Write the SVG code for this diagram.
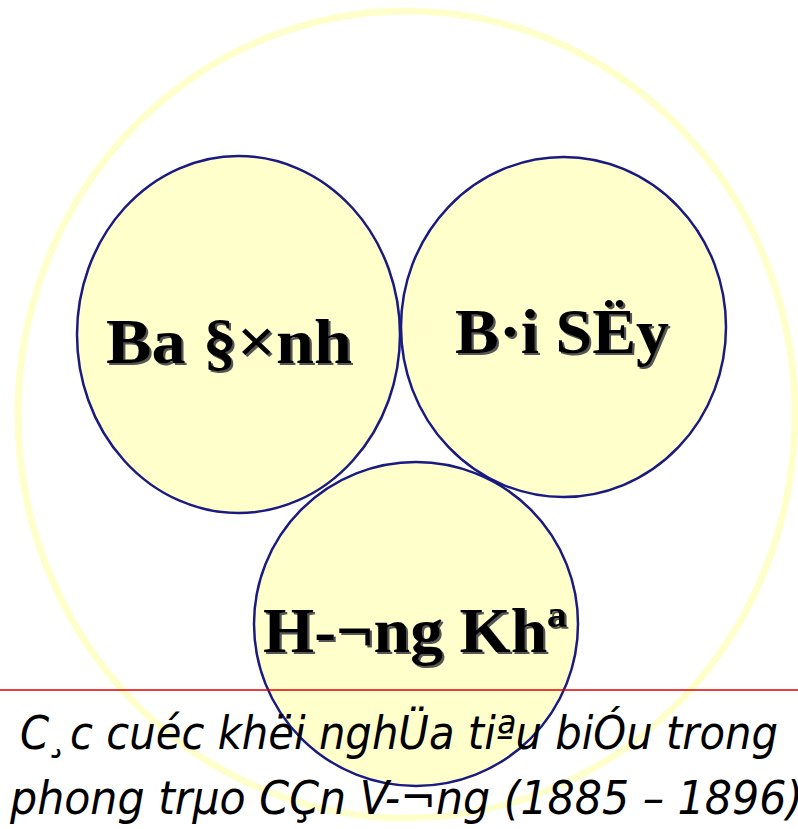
<svg xmlns="http://www.w3.org/2000/svg" width="798" height="829" viewBox="0 0 798 829">
<defs>
<filter id="shadow" x="-10%" y="-20%" width="120%" height="140%">
<feOffset in="SourceAlpha" dx="2" dy="2" result="o"/>
<feFlood flood-color="#555555"/>
<feComposite in2="o" operator="in" result="s"/>
<feMerge><feMergeNode in="s"/><feMergeNode in="SourceGraphic"/></feMerge>
</filter>
</defs>
<style>
.node{fill:#FFFFCC;stroke:#1A1A80;stroke-width:2.5}
.lbl{font-family:"Liberation Serif","Times New Roman",serif;font-weight:bold;font-size:64px;text-anchor:middle;fill:#000;filter:url(#shadow)}
.cap{font-family:"DejaVu Sans Condensed","DejaVu Sans",sans-serif;font-style:italic;font-size:47px;fill:#000}
</style>
<rect width="798" height="829" fill="#fff"/>
<ellipse id="ring" cx="406.5" cy="414.5" rx="388.5" ry="403.5" fill="none" stroke="#FFFFCC" stroke-width="7"/>
<g id="connectors"/>
<g id="node-badinh">
<ellipse class="node" cx="238.5" cy="334.5" rx="161.5" ry="178.5"/>
<text class="lbl" x="229" y="363" textLength="246" lengthAdjust="spacingAndGlyphs">Ba §×nh</text>
</g>
<g id="node-baisay">
<ellipse class="node" cx="563.5" cy="327" rx="162.5" ry="170"/>
<text class="lbl" x="562" y="353" textLength="214" lengthAdjust="spacingAndGlyphs">B·i SËy</text>
</g>
<g id="node-hunglinh">
<ellipse class="node" cx="416" cy="624" rx="162" ry="162"/>
<text class="lbl" x="415" y="652" textLength="304" lengthAdjust="spacingAndGlyphs">H-¬ng Khª</text>
</g>
<line x1="0" y1="690" x2="798" y2="690" stroke="#E00000" stroke-width="1.5"/>
<g id="caption">
<text class="cap" x="20" y="749" textLength="758" lengthAdjust="spacingAndGlyphs">C¸c cuéc khëi nghÜa tiªu biÓu trong</text>
<text class="cap" x="10" y="814" textLength="793" lengthAdjust="spacingAndGlyphs">phong trµo CÇn V-¬ng (1885 – 1896)</text>
</g>
</svg>
